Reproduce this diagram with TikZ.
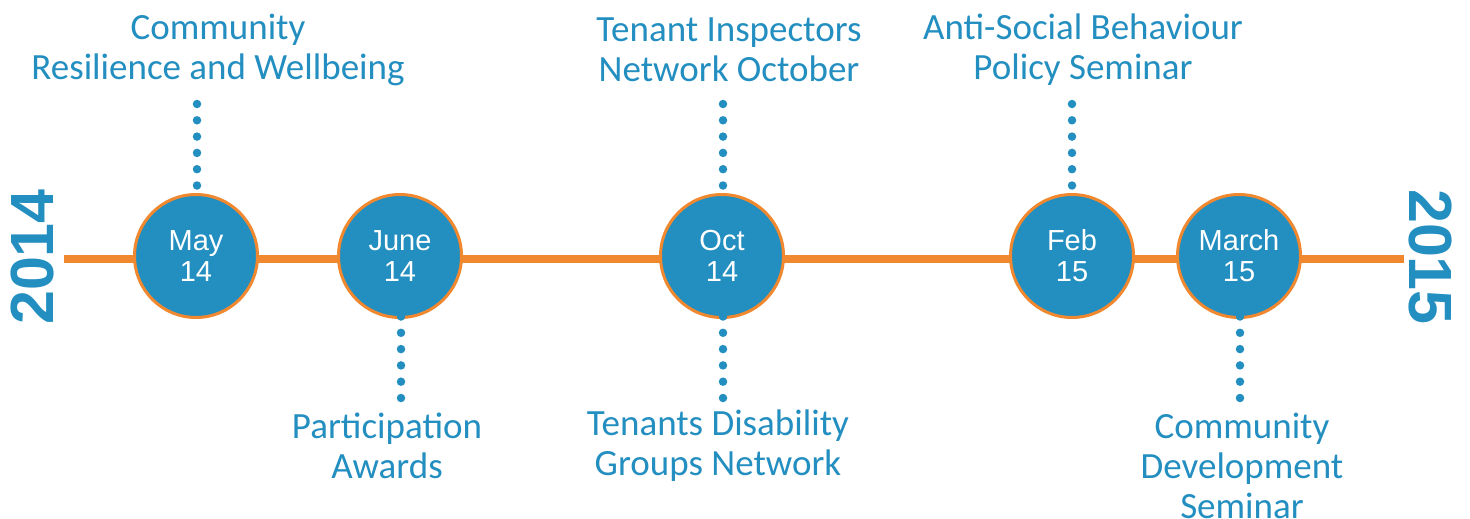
\documentclass[tikz,border=0pt]{standalone}
\usepackage{fontspec}
\setmainfont{Carlito}
\newfontfamily\circfont{Liberation Sans}
\newfontfamily\yearfont{Liberation Sans}
\definecolor{tblue}{RGB}{35,142,192}
\definecolor{torange}{RGB}{240,136,48}
\begin{document}
\begin{tikzpicture}[x=1pt,y=-1pt,
  evt/.style={circle,draw=torange,line width=3pt,fill=tblue,minimum size=123pt,inner sep=0pt,
    text=white,font=\circfont\fontsize{29}{31}\selectfont,align=center},
  lbl/.style={text=tblue,font=\fontsize{37}{40}\selectfont,align=center,inner sep=0pt},
  year/.style={text=tblue,font=\yearfont\bfseries\fontsize{61}{61}\selectfont,inner sep=0pt},
  dots/.style={tblue,line width=8.5pt,line cap=round,dash pattern=on 0pt off 16.3pt}]
\useasboundingbox (0,0) rectangle (1470,519);
\coordinate (L) at (64,259);
\coordinate (R) at (1404,259);
\draw[torange,line width=8pt] (L) -- (R);
\node[evt] (may) at (196,256) {May\\14};
\node[evt] (jun) at (400,256) {June\\14};
\node[evt] (oct) at (722,256) {Oct\\14};
\node[evt] (feb) at (1072,256) {Feb\\15};
\node[evt] (mar) at (1239,256) {March\\15};
\node[year,rotate=90] (y1) at (33,257) {2014};
\node[year,rotate=-90] (y2) at (1430,257) {2015};
\node[lbl] (t1) at (218,50) {Community\\Resilience and Wellbeing};
\node[lbl] (t2) at (729,50) {Tenant Inspectors\\Network October};
\node[lbl] (t3) at (1083,50) {Anti-Social Behaviour\\Policy Seminar};
\node[lbl] (b1) at (387,446) {Participation\\Awards};
\node[lbl] (b2) at (718,446) {Tenants Disability\\Groups Network};
\node[lbl] (b3) at (1242,466) {Community\\Development\\Seminar};
\coordinate (d1) at (197,104);
\coordinate (d2) at (401,398);
\coordinate (d3) at (723,104);
\coordinate (d4) at (723,398);
\coordinate (d5) at (1072,104);
\coordinate (d6) at (1240,398);
\draw[dots] (d1) -- (197,186);
\draw[dots] (d2) -- (401,316);
\draw[dots] (d3) -- (723,186);
\draw[dots] (d4) -- (723,316);
\draw[dots] (d5) -- (1072,186);
\draw[dots] (d6) -- (1240,316);
\end{tikzpicture}
\end{document}
